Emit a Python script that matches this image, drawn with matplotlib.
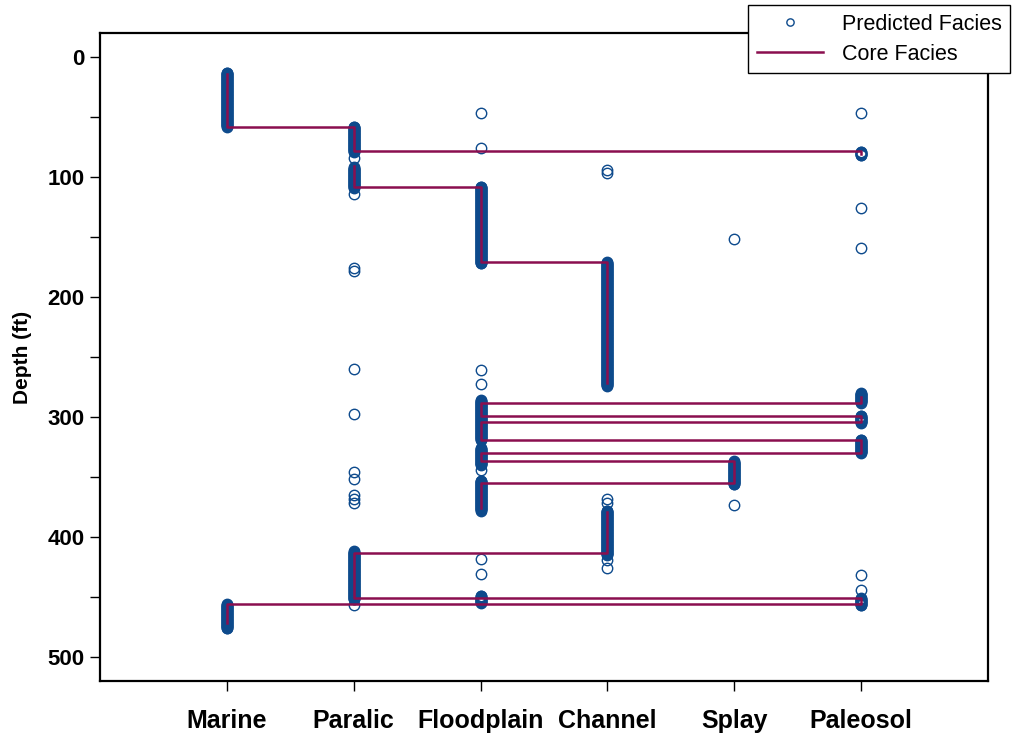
import numpy as np
import matplotlib
matplotlib.use('Agg')
import matplotlib.pyplot as plt
from matplotlib.ticker import MultipleLocator

# facies codes, plotted at x = 1..6
facies = ['Marine', 'Paralic', 'Floodplain', 'Channel', 'Splay', 'Paleosol']

# core description intervals (ft); a gap between base and next top breaks the line
core_facies = ['Marine', 'Paralic', 'Paleosol',
               'Paralic', 'Floodplain', 'Channel',
               'Paleosol', 'Floodplain', 'Paleosol', 'Floodplain', 'Paleosol',
               'Floodplain', 'Splay', 'Floodplain',
               'Channel', 'Paralic', 'Paleosol', 'Marine']
core_top = [14, 58, 78,
            91, 108, 171,
            283, 288, 299, 304, 319,
            330, 337, 355,
            379, 413, 451, 456]
core_base = [58, 78, 81,
             108, 171, 272,
             288, 299, 304, 319, 330,
             337, 355, 376,
             413, 451, 456, 472]

# predicted facies: continuous runs of log samples
log_step = 0.5
run_facies = ['Marine', 'Marine',
              'Paralic', 'Paralic', 'Paralic',
              'Floodplain', 'Floodplain', 'Floodplain', 'Floodplain', 'Floodplain',
              'Channel', 'Channel',
              'Splay',
              'Paleosol', 'Paleosol', 'Paleosol', 'Paleosol', 'Paleosol']
run_top = [13, 456,
           58, 92, 412,
           108, 286, 326, 353, 449,
           171, 378,
           337,
           79, 280, 299, 319, 451]
run_base = [58, 476,
            79, 109, 452,
            172, 319, 340, 378, 455,
            274, 415,
            356,
            82, 288, 305, 330, 457]

# predicted facies: isolated samples
single_facies = ['Paralic'] * 12 + ['Floodplain'] * 7 + ['Channel'] * 6 + ['Splay'] * 2 + ['Paleosol'] * 5
single_depth = [84, 114, 176, 178, 260, 297.5, 346, 352, 365, 368, 372, 457,
                47, 76, 261, 272.5, 344, 418, 431,
                94, 97, 368, 372, 419, 426,
                152, 373,
                47, 126, 159, 432, 444]

blue = '#0d4a8c'
maroon = '#8a0f4f'
font = ['Liberation Sans', 'DejaVu Sans']

code = {name: i + 1 for i, name in enumerate(facies)}

# expand runs to sample depths
px, py = [], []
for f, t, b in zip(run_facies, run_top, run_base):
    d = np.arange(t, b + log_step / 2, log_step)
    px.extend([code[f]] * len(d))
    py.extend(d)
px.extend(code[f] for f in single_facies)
py.extend(single_depth)

# step line for the core
cx, cy = [], []
for i, (f, t, b) in enumerate(zip(core_facies, core_top, core_base)):
    if i > 0 and t != core_base[i - 1]:
        cx.append(np.nan)
        cy.append(np.nan)
    cx += [code[f], code[f]]
    cy += [t, b]

fig = plt.figure(figsize=(10.15, 7.35), dpi=100)
ax = fig.add_axes([100 / 1015, 1 - 681 / 735, 888 / 1015, 648 / 735])

ax.plot(px, py, linestyle='none', marker='o', markersize=7.5, markerfacecolor='none',
        markeredgecolor=blue, markeredgewidth=1.0, label='Predicted Facies')
ax.plot(cx, cy, color=maroon, linewidth=1.8, label='Core Facies')

ax.set_xlim(0, 7)
ax.set_ylim(520, -20)
ax.set_xticks(range(1, 7))
ax.set_xticklabels(facies, fontsize=18, fontweight='bold', family=font)
ax.yaxis.set_major_locator(MultipleLocator(100))
ax.yaxis.set_minor_locator(MultipleLocator(50))
for lab in ax.get_yticklabels():
    lab.set_fontsize(16)
    lab.set_fontweight('bold')
    lab.set_family(font)
ax.set_ylabel('Depth (ft)', fontsize=15, fontweight='bold', family=font, labelpad=11)

ax.tick_params(axis='both', which='both', direction='out', length=7, width=1, color='black')
ax.tick_params(axis='x', pad=13)
ax.tick_params(axis='y', pad=4)
for s in ax.spines.values():
    s.set_linewidth(1.6)
    s.set_color('black')

leg = fig.legend(handles=ax.get_lines(), loc='upper left', bbox_to_anchor=(748 / 1015, 1 - 5 / 735),
                 frameon=True, fancybox=False, framealpha=1, edgecolor='black',
                 prop={'family': font, 'size': 15.5},
                 markerscale=0.7, handlelength=3.1, handletextpad=0.85,
                 borderpad=0.4, labelspacing=0.42, borderaxespad=0)
leg.get_frame().set_linewidth(1)

fig.savefig('out.png', dpi=100)
